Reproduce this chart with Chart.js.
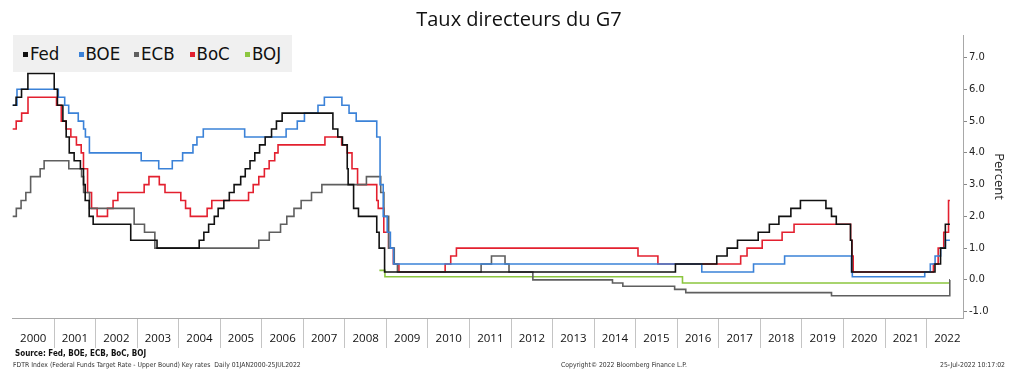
<!DOCTYPE html>
<html>
<head>
<meta charset="utf-8">
<title>Taux directeurs du G7</title>
<script src="https://cdn.jsdelivr.net/npm/chart.js@4.4.0/dist/chart.umd.min.js"></script>
<style>
  html, body { margin: 0; padding: 0; background: #fff; }
  #wrap { position: relative; width: 1024px; height: 388px; overflow: hidden; }
  #rates { position: absolute; left: 0; top: 0; }
  .txt { position: absolute; white-space: nowrap; }
  #title { left: 0; width: 1038px; top: 6px; text-align: center; font: 20px "Open Sans", sans-serif; line-height: 26px; color: #111; }
  #legend { position: absolute; left: 13px; top: 35px; width: 279px; height: 37px; background: #f0f0f0; }
  .item { position: absolute; top: 0; height: 37px; font: 18.5px "Liberation Sans Narrow", "DejaVu Sans Condensed", sans-serif; line-height: 37px; color: #111; }
  .item span { display: inline-block; width: 5px; height: 5px; margin-right: 2px; vertical-align: 3px; }
  .foot { font-family: "DejaVu Sans Condensed", "DejaVu Sans", sans-serif; color: #333; font-size: 6.8px; line-height: 8px; top: 361px; }
</style>
</head>
<body>
<div id="wrap">
  <canvas id="rates" width="1024" height="388"></canvas>
  <div class="txt" id="title">Taux directeurs du G7</div>
  <div id="legend"></div>
  <div class="txt foot" style="left:15px;top:349px;font-size:8px;line-height:10px;font-weight:bold;color:#111">Source: Fed, BOE, ECB, BoC, BOJ</div>
  <div class="txt foot" style="left:13px">FDTR Index (Federal Funds Target Rate - Upper Bound) Key rates&nbsp; Daily 01JAN2000-25JUL2022</div>
  <div class="txt foot" style="left:561px">Copyright&copy; 2022 Bloomberg Finance L.P.</div>
  <div class="txt foot" style="right:19px">25-Jul-2022 10:17:02</div>
</div>
<script>
// Policy rates, each series = change dates + new level
var fedDates = ['2000-01-01','2000-02-02','2000-03-21','2000-05-16','2001-01-03','2001-01-31','2001-03-20','2001-04-18','2001-05-15','2001-06-27','2001-08-21','2001-09-17','2001-10-02','2001-11-06','2001-12-11','2002-11-06','2003-06-25','2004-06-30','2004-08-10','2004-09-21','2004-11-10','2004-12-14','2005-02-02','2005-03-22','2005-05-03','2005-06-30','2005-08-09','2005-09-20','2005-11-01','2005-12-13','2006-01-31','2006-03-28','2006-05-10','2006-06-29','2007-09-18','2007-10-31','2007-12-11','2008-01-22','2008-01-30','2008-03-18','2008-04-30','2008-10-08','2008-10-29','2008-12-16','2015-12-16','2016-12-14','2017-03-15','2017-06-14','2017-12-13','2018-03-21','2018-06-13','2018-09-26','2018-12-19','2019-07-31','2019-09-18','2019-10-30','2020-03-03','2020-03-15','2022-03-16','2022-05-04','2022-06-15','2022-07-25'];
var fedRates = [5.50,5.75,6.00,6.50,6.00,5.50,5.00,4.50,4.00,3.75,3.50,3.00,2.50,2.00,1.75,1.25,1.00,1.25,1.50,1.75,2.00,2.25,2.50,2.75,3.00,3.25,3.50,3.75,4.00,4.25,4.50,4.75,5.00,5.25,4.75,4.50,4.25,3.50,3.00,2.25,2.00,1.50,1.00,0.25,0.50,0.75,1.00,1.25,1.50,1.75,2.00,2.25,2.50,2.25,2.00,1.75,1.25,0.25,0.50,1.00,1.75,1.75];

var boeDates = ['2000-01-01','2000-02-10','2001-02-08','2001-04-05','2001-05-10','2001-08-02','2001-09-18','2001-10-04','2001-11-08','2003-02-06','2003-07-10','2003-11-06','2004-02-05','2004-05-06','2004-06-10','2004-08-05','2005-08-04','2006-08-03','2006-11-09','2007-01-11','2007-05-10','2007-07-05','2007-12-06','2008-02-07','2008-04-10','2008-10-08','2008-11-06','2008-12-04','2009-01-08','2009-02-05','2009-03-05','2016-08-04','2017-11-02','2018-08-02','2020-03-11','2020-03-19','2021-12-16','2022-02-03','2022-03-17','2022-05-05','2022-06-16','2022-07-25'];
var boeRates = [5.50,6.00,5.75,5.50,5.25,5.00,4.75,4.50,4.00,3.75,3.50,3.75,4.00,4.25,4.50,4.75,4.50,4.75,5.00,5.25,5.50,5.75,5.50,5.25,5.00,4.50,3.00,2.00,1.50,1.00,0.50,0.25,0.50,0.75,0.25,0.10,0.25,0.50,0.75,1.00,1.25,1.25];

var ecbDates = ['2000-01-01','2000-02-04','2000-03-17','2000-04-28','2000-06-09','2000-09-01','2000-10-06','2001-05-11','2001-08-31','2001-09-18','2001-11-09','2002-12-06','2003-03-07','2003-06-06','2005-12-06','2006-03-08','2006-06-15','2006-08-09','2006-10-11','2006-12-13','2007-03-14','2007-06-13','2008-07-09','2008-11-12','2008-12-10','2009-01-21','2009-03-11','2009-04-08','2011-04-13','2011-07-13','2011-11-09','2011-12-14','2012-07-11','2014-06-11','2014-09-10','2015-12-09','2016-03-16','2019-09-18','2022-07-24','2022-07-25'];
var ecbRates = [2.00,2.25,2.50,2.75,3.25,3.50,3.75,3.50,3.25,2.75,2.25,1.75,1.50,1.00,1.25,1.50,1.75,2.00,2.25,2.50,2.75,3.00,3.25,2.75,2.00,1.00,0.50,0.25,0.50,0.75,0.50,0.25,0.00,-0.10,-0.20,-0.30,-0.40,-0.50,0.00,0.00];

var bocDates = ['2000-01-01','2000-02-03','2000-03-22','2000-05-17','2001-01-23','2001-03-06','2001-04-17','2001-05-29','2001-07-17','2001-08-28','2001-09-17','2001-10-23','2001-11-27','2002-01-15','2002-04-16','2002-06-04','2002-07-16','2003-03-04','2003-04-15','2003-07-15','2003-09-03','2004-01-20','2004-03-02','2004-04-13','2004-09-08','2004-10-19','2005-09-07','2005-10-18','2005-12-06','2006-01-24','2006-03-07','2006-04-25','2006-05-24','2007-07-10','2007-12-04','2008-01-22','2008-03-04','2008-04-22','2008-10-08','2008-10-21','2008-12-09','2009-01-20','2009-03-03','2009-04-21','2010-06-01','2010-07-20','2010-09-08','2015-01-21','2015-07-15','2017-07-12','2017-09-06','2018-01-17','2018-07-11','2018-10-24','2020-03-04','2020-03-16','2020-03-27','2022-03-02','2022-04-13','2022-06-01','2022-07-13','2022-07-25'];
var bocRates = [4.75,5.00,5.25,5.75,5.50,5.00,4.75,4.50,4.25,4.00,3.50,2.75,2.25,2.00,2.25,2.50,2.75,3.00,3.25,3.00,2.75,2.50,2.25,2.00,2.25,2.50,2.75,3.00,3.25,3.50,3.75,4.00,4.25,4.50,4.25,4.00,3.50,3.00,2.50,2.25,1.50,1.00,0.50,0.25,0.50,0.75,1.00,0.75,0.50,0.75,1.00,1.25,1.50,1.75,1.25,0.75,0.25,0.50,1.00,1.50,2.50,2.50];

var bojDates = ['2008-10-31','2008-12-19','2016-02-16','2022-07-25'];
var bojRates = [0.30,0.10,-0.10,-0.10];

var seriesNames = ['Fed', 'BOE', 'ECB', 'BoC', 'BOJ'];
var seriesColors = ['#111111', '#3b82d8', '#5f5f5f', '#e3202f', '#8cc63f'];

var yearTicks = [2000,2001,2002,2003,2004,2005,2006,2007,2008,2009,2010,2011,2012,2013,2014,2015,2016,2017,2018,2019,2020,2021,2022];
var percentTicks = [-1, 0, 1, 2, 3, 4, 5, 6, 7];

// date string -> fractional year, so a plain linear axis can be used
function toYear(s) {
    var p = s.split('-').map(Number);
    var start = Date.UTC(p[0], 0, 1), end = Date.UTC(p[0] + 1, 0, 1);
    return p[0] + (Date.UTC(p[0], p[1] - 1, p[2]) - start) / (end - start);
}

function points(dates, rates) {
    return dates.map(function (d, i) { return { x: toYear(d), y: rates[i] }; });
}

var allDates = [fedDates, boeDates, ecbDates, bocDates, bojDates];
var allRates = [fedRates, boeRates, ecbRates, bocRates, bojRates];

// legend (sits over the plot, top-left)
var legend = document.getElementById('legend');
seriesNames.forEach(function (name, i) {
    var el = document.createElement('div');
    el.className = 'item';
    el.style.left = (10 + i * 55.5) + 'px';
    el.innerHTML = '<span style="background:' + seriesColors[i] + '"></span>' + name;
    legend.appendChild(el);
});

var datasets = seriesNames.map(function (name, i) {
    return {
        label: name,
        data: points(allDates[i], allRates[i]),
        borderColor: seriesColors[i],
        backgroundColor: seriesColors[i],
        borderWidth: 1.6,
        stepped: true,
        pointRadius: 0,
        fill: false
    };
});

var ctx = document.getElementById('rates');
new Chart(ctx, {
    type: 'line',
    data: { datasets: datasets },
    options: {
        responsive: false,
        devicePixelRatio: 1,
        animation: false,
        layout: { padding: { left: 12.45, top: 35, right: 0, bottom: 40 } },
        plugins: {
            legend: { display: false },
            title: { display: false },
            tooltip: { enabled: false }
        },
        scales: {
            x: {
                type: 'linear',
                min: 2000,
                max: 2022.877,
                afterBuildTicks: function (scale) {
                    scale.ticks = yearTicks.map(function (v) { return { value: v }; });
                },
                afterFit: function (scale) { scale.height = 30; },
                grid: {
                    display: true,
                    drawOnChartArea: false,
                    drawTicks: true,
                    tickLength: 30,
                    color: function (c) { return c.index === 0 ? 'rgba(0,0,0,0)' : '#c4c4c4'; }
                },
                border: { display: true, color: '#a8a8a8' },
                ticks: {
                    autoSkip: false,
                    maxRotation: 0,
                    minRotation: 0,
                    labelOffset: 20.8,
                    padding: -16,
                    color: '#111',
                    font: { family: 'Open Sans', size: 11.5 },
                    callback: function (v) { return String(v); }
                }
            },
            y: {
                type: 'linear',
                position: 'right',
                min: -1.2,
                max: 7.71,
                afterBuildTicks: function (scale) {
                    scale.ticks = percentTicks.map(function (v) { return { value: v }; });
                },
                afterFit: function (scale) { scale.width = 61; },
                grid: {
                    display: true,
                    drawOnChartArea: false,
                    drawTicks: true,
                    tickLength: 4,
                    tickColor: '#888'
                },
                border: { display: true, color: '#a8a8a8' },
                ticks: {
                    padding: 2,
                    color: '#222',
                    font: { family: 'DejaVu Sans', size: 10 },
                    callback: function (v) { return v.toFixed(1); }
                },
                title: {
                    display: true,
                    text: 'Percent',
                    color: '#222',
                    font: { family: 'Open Sans', size: 13 },
                    padding: { top: 17, bottom: 0 }
                }
            }
        }
    }
});
</script>
</body>
</html>
